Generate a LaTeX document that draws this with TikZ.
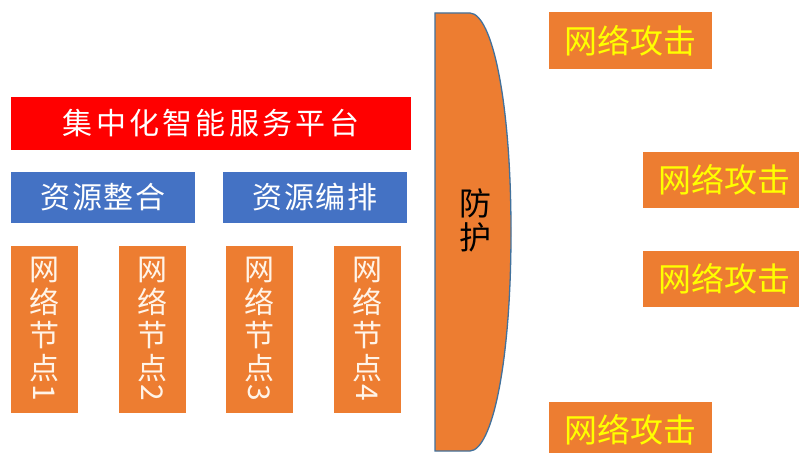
\documentclass[tikz,border=0pt]{standalone}
\usepackage{fontspec}
\setmainfont{Noto Sans CJK SC}
\usepackage{graphicx}
\definecolor{orng}{HTML}{ED7D31}
\definecolor{rd}{HTML}{FF0000}
\definecolor{bl}{HTML}{4472C4}
\definecolor{yl}{HTML}{FFFF00}
\definecolor{cream}{HTML}{FFF4E8}
\definecolor{edge}{HTML}{41719C}
\tikzset{
  boxbase/.style={inner sep=0pt, draw=none, anchor=center},
  redbar/.style={boxbase, fill=rd, text=white, minimum width=400, minimum height=53,
     font=\fontsize{30}{30}\selectfont\addfontfeatures{LetterSpace=11}},
  bluebox/.style={boxbase, fill=bl, text=white, minimum width=184, minimum height=51,
     font=\fontsize{30}{30}\selectfont\addfontfeatures{LetterSpace=5}},
  netbox/.style={boxbase, fill=orng, minimum width=67, minimum height=167},
  nettext/.style={boxbase, text=cream, align=center, font=\fontsize{30}{33}\selectfont},
  attack/.style={boxbase, fill=orng, text=yl, minimum width=163, minimum height=56,
     font=\fontsize{33}{33}\selectfont},
}
\newcommand{\vdigit}[1]{\rotatebox{-90}{#1}}
\begin{document}
\begin{tikzpicture}[x=1pt,y=-1pt]
\useasboundingbox (0,0) rectangle (799,452);
\clip (0,0) rectangle (799,452);
\fill[white] (0,0) rectangle (799,452);

\node[redbar] (plat) at (211,123.5) {集中化智能服务平台};
\node[bluebox] (zyzh) at (103,197.5) {资源整合};
\node[bluebox] (zybp) at (315,197.5) {资源编排};

\node[netbox] (n1) at (44.5,329.5) {};
\node[netbox] (n2) at (152.5,329.5) {};
\node[netbox] (n3) at (259.5,329.5) {};
\node[netbox] (n4) at (367.5,329.5) {};
\node[nettext] (t1) at (n1.center) {网\\络\\节\\点\\[-28pt]\vdigit{1}};
\node[nettext] (t2) at (n2.center) {网\\络\\节\\点\\[-28pt]\vdigit{2}};
\node[nettext] (t3) at (n3.center) {网\\络\\节\\点\\[-28pt]\vdigit{3}};
\node[nettext] (t4) at (n4.center) {网\\络\\节\\点\\[-28pt]\vdigit{4}};

% shield
\draw[edge, line width=1.3pt, fill=orng]
  (435,13) -- (470,13)
  .. controls (492,14) and (511,100) .. (511,232)
  .. controls (511,364) and (492,450) .. (470,451)
  -- (435,451) -- cycle;
\node[boxbase, text=black, align=center, font=\fontsize{32}{34}\selectfont] (fh) at (475,220) {防\\护};

\node[attack] (a1) at (630.5,40.5) {网络攻击};
\node[attack] (a2) at (724.5,180) {网络攻击};
\node[attack] (a3) at (724.5,279) {网络攻击};
\node[attack] (a4) at (630.5,430) {网络攻击};
\end{tikzpicture}
\end{document}
